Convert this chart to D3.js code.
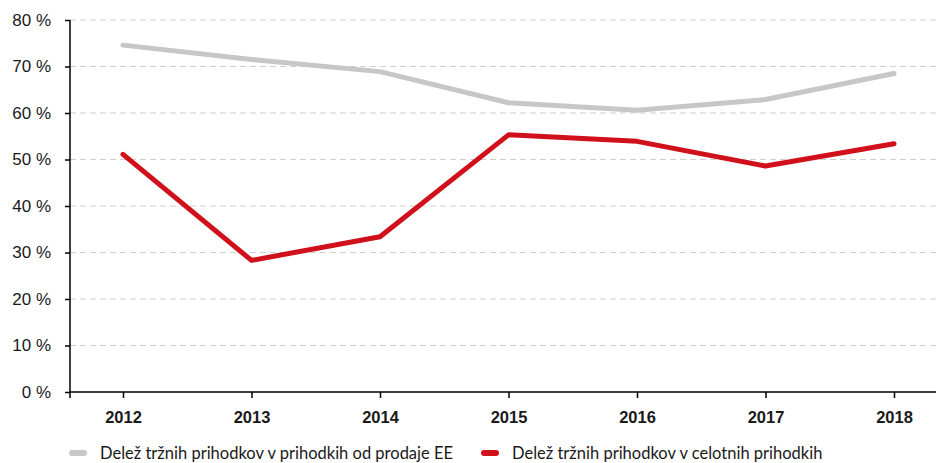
<!DOCTYPE html>
<html>
<head>
<meta charset="utf-8">
<script src="https://cdn.jsdelivr.net/npm/d3@7"></script>
<style>
  body { margin: 0; background: #fff; }
  svg { font-family: Lato, "Open Sans", sans-serif; }
  .grid line { stroke: #cfcfcf; stroke-dasharray: 6,4; }
  .axis text { fill: #1a1a1a; }
</style>
</head>
<body>
<svg width="938" height="463"></svg>
<script>
// data
var years = ['2012', '2013', '2014', '2015', '2016', '2017', '2018'];
var shareEE = [74.6, 71.5, 68.9, 62.2, 60.6, 62.9, 68.5];
var shareTotal = [51.1, 28.3, 33.4, 55.3, 53.9, 48.6, 53.4];
var yTicks = [0, 10, 20, 30, 40, 50, 60, 70, 80];
var seriesNames = ['Delež tržnih prihodkov v prihodkih od prodaje EE', 'Delež tržnih prihodkov v celotnih prihodkih'];
var seriesColors = ['#c6c7c6', '#d0101b'];

var svg = d3.select('svg');
var plotL = 70, plotR = 936, plotT = 20, plotB = 392;

var x = d3.scalePoint().domain(years).range([123, 894]);
var y = d3.scaleLinear().domain([0, 80]).range([plotB, plotT]);

// gridlines
svg.append('g')
  .attr('class', 'grid')
  .selectAll('line')
  .data(yTicks.slice(1))
  .enter().append('line')
  .attr('x1', plotL).attr('x2', plotR)
  .attr('y1', function(d) { return y(d); })
  .attr('y2', function(d) { return y(d); });

// y axis
var yAxis = svg.append('g')
  .attr('class', 'axis')
  .attr('transform', 'translate(' + plotL + ',0)')
  .call(d3.axisLeft(y).tickValues(yTicks).tickSize(5).tickPadding(14)
    .tickFormat(function(d) { return d + ' %'; }));
yAxis.select('.domain').attr('d', 'M0,' + plotT + 'V' + (plotB + 6)).attr('stroke', '#000').attr('stroke-width', 1.5);
yAxis.selectAll('.tick line').attr('stroke', '#000').attr('stroke-width', 1.5);
yAxis.selectAll('text').style('font-size', '17px');

// x axis
var xAxis = svg.append('g')
  .attr('class', 'axis')
  .attr('transform', 'translate(0,' + plotB + ')')
  .call(d3.axisBottom(x).tickSize(6).tickPadding(13));
xAxis.select('.domain').attr('d', 'M' + plotL + ',0H' + plotR).attr('stroke', '#000').attr('stroke-width', 1.5);
xAxis.selectAll('.tick line').attr('stroke', '#000').attr('stroke-width', 1.5);
xAxis.selectAll('text').style('font-size', '16.5px').style('font-weight', 'bold');

// lines
var line = d3.line()
  .x(function(d, i) { return x(years[i]); })
  .y(function(d) { return y(d); });

[shareEE, shareTotal].forEach(function(s, k) {
  svg.append('path')
    .datum(s)
    .attr('d', line)
    .attr('fill', 'none')
    .attr('stroke', seriesColors[k])
    .attr('stroke-width', 5)
    .attr('stroke-linecap', 'round')
    .attr('stroke-linejoin', 'round');
});

// legend
var legendX = [72, 484];
var legend = svg.selectAll('.legend')
  .data(seriesNames)
  .enter().append('g')
  .attr('class', 'legend')
  .attr('transform', function(d, i) { return 'translate(' + legendX[i] + ',453)'; });
legend.append('line')
  .attr('x1', 0).attr('x2', 12)
  .attr('stroke', function(d, i) { return seriesColors[i]; })
  .attr('stroke-width', 6)
  .attr('stroke-linecap', 'round');
legend.append('text')
  .attr('x', 28).attr('dy', '0.35em')
  .style('font-size', '16.5px')
  .attr('fill', '#1a1a1a')
  .text(function(d) { return d; });
</script>
</body>
</html>
